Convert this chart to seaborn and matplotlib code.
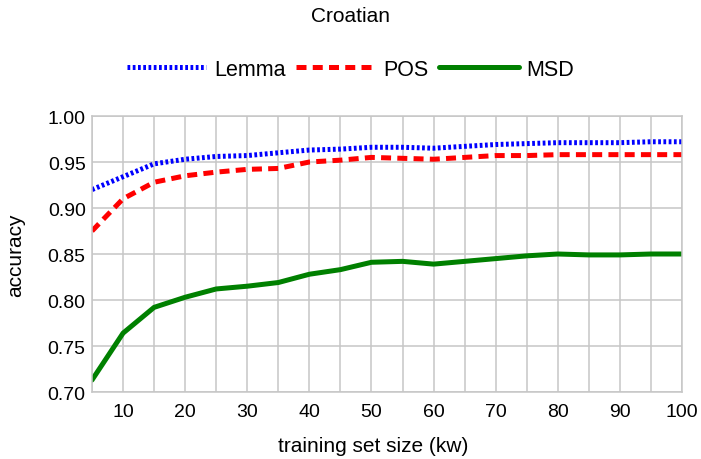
import numpy as np
import pandas as pd
import matplotlib
matplotlib.use("Agg")
import matplotlib.pyplot as plt
import seaborn as sns
from matplotlib.ticker import MultipleLocator

# --- datos ---
sizes = [5, 10, 15, 20, 25, 30, 35, 40, 45, 50,
         55, 60, 65, 70, 75, 80, 85, 90, 95, 100]
lemma = [0.920, 0.934, 0.948, 0.953, 0.956, 0.957, 0.960, 0.963, 0.964, 0.966,
         0.966, 0.965, 0.967, 0.969, 0.970, 0.971, 0.971, 0.971, 0.972, 0.972]
pos = [0.875, 0.910, 0.928, 0.935, 0.939, 0.942, 0.943, 0.950, 0.952, 0.955,
       0.954, 0.953, 0.955, 0.957, 0.957, 0.958, 0.958, 0.958, 0.958, 0.958]
msd = [0.713, 0.764, 0.792, 0.803, 0.812, 0.815, 0.819, 0.828, 0.833, 0.841,
       0.842, 0.839, 0.842, 0.845, 0.848, 0.850, 0.849, 0.849, 0.850, 0.850]

sns.set_style("whitegrid")
plt.rcParams['font.family'] = ['Liberation Sans', 'DejaVu Sans']
for k in ["text.color", "axes.labelcolor", "xtick.color", "ytick.color"]:
    plt.rcParams[k] = "black"
grid_col = "#c6c6c6"

fig = plt.figure(figsize=(7.01, 4.6), dpi=100)
ax = fig.add_axes([92 / 701, 1 - 393 / 460, 590 / 701, 276 / 460])

lw = 3.6
sns.lineplot(x=sizes, y=lemma, ax=ax, color="#0000ff", lw=lw,
             linestyle=(0, (0.55, 0.5)), label="Lemma")
sns.lineplot(x=sizes, y=pos, ax=ax, color="#ff0000", lw=lw,
             linestyle=(0, (2.0, 1.25)), label="POS")
sns.lineplot(x=sizes, y=msd, ax=ax, color="#008000", lw=lw,
             linestyle="-", label="MSD")

ax.set_xlim(5, 100)
ax.set_ylim(0.70, 1.00)
ax.xaxis.set_major_locator(MultipleLocator(10))
ax.xaxis.set_minor_locator(MultipleLocator(5))
ax.set_yticks(np.arange(0.70, 1.001, 0.05))
ax.set_yticklabels([f"{v:.2f}" for v in np.arange(0.70, 1.001, 0.05)])
ax.grid(True, which="both", color=grid_col, lw=1.1)
ax.tick_params(axis="both", which="both", length=0, labelsize=14)
ax.tick_params(axis="x", pad=8)
ax.tick_params(axis="y", pad=4.5)
for s in ax.spines.values():
    s.set_color(grid_col)
    s.set_linewidth(1.1)
ax.set_axisbelow(True)

ax.set_xlabel("training set size (kw)", fontsize=15)
ax.xaxis.set_label_coords(0.476, -0.158)
ax.set_ylabel("accuracy", fontsize=15, labelpad=16)

ax.get_legend().remove()
handles, labels = ax.get_legend_handles_labels()
fig.legend(handles, labels, loc="center", bbox_to_anchor=(0.5, 1 - 70 / 460),
           ncol=3, frameon=False, fontsize=15.5, handlelength=3.7,
           handletextpad=0.35, columnspacing=0.5)

fig.text(0.5, 1 - 17 / 460, "Croatian", ha="center", va="center", fontsize=15)

plt.savefig("out.png", dpi=100)
